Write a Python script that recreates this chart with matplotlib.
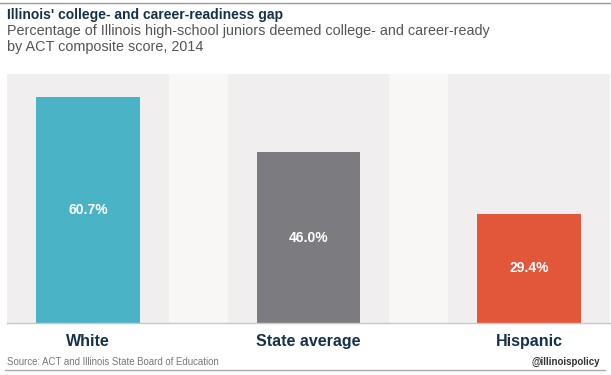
import matplotlib.pyplot as plt
from matplotlib.lines import Line2D

# ====== DATA ======
categories = ["White", "State average", "Hispanic"]
values = [60.7, 46.0, 29.4]
bar_colors = ["#4ab3c6", "#7b7b80", "#e2573a"]
# ==================

plt.rcParams['font.family'] = ['Liberation Sans', 'DejaVu Sans']

fig = plt.figure(figsize=(6.11, 3.75), dpi=100)
fig.patch.set_facecolor("white")

ax = fig.add_axes([7 / 611, 1 - 323 / 375, 603 / 611, 249 / 375])
ax.set_facecolor("#f8f7f6")

x = range(len(categories))
for i in x:
    ax.axvspan(i - 0.367, i + 0.367, color="#f0eeef", lw=0, zorder=0)

bars = ax.bar(x, values, width=0.47, color=bar_colors, zorder=2)
for i, v in zip(x, values):
    ax.text(i, v / 2, f"{v:.1f}%", ha="center", va="center",
            color="white", fontsize=10, fontweight="bold", zorder=3)

ax.set_xlim(-0.367, 2.367)
ax.set_ylim(0, 67)
ax.set_yticks([])
ax.set_xticks(list(x))
ax.set_xticklabels(categories, fontsize=11.5, fontweight="bold", color="#15314b")
ax.tick_params(axis="x", length=0, pad=8)
for s in ["top", "left", "right"]:
    ax.spines[s].set_visible(False)
ax.spines["bottom"].set_color("#c8c8c8")
ax.spines["bottom"].set_linewidth(1)

# titles
fig.text(7 / 611, 1 - 15 / 375, "Illinois' college- and career-readiness gap",
         fontsize=10, fontweight="bold", color="#15314b", va="center")
fig.text(7 / 611, 1 - 31 / 375,
         "Percentage of Illinois high-school juniors deemed college- and career-ready",
         fontsize=10.4, color="#555555", va="center")
fig.text(7 / 611, 1 - 47 / 375, "by ACT composite score, 2014",
         fontsize=10.4, color="#555555", va="center")

# footer
fig.text(7 / 611, 1 - 362 / 375, "Source: ACT and Illinois State Board of Education",
         fontsize=6.9, color="#777777", va="center")
fig.text(600 / 611, 1 - 362 / 375, "@illinoispolicy",
         fontsize=7, fontweight="bold", color="#333333", va="center", ha="right")

# rules
fig.add_artist(Line2D([0, 1], [1 - 3 / 375, 1 - 3 / 375], color="#999999", lw=1))
fig.add_artist(Line2D([5 / 611, 605 / 611], [1 - 370 / 375, 1 - 370 / 375],
                      color="#aaaaaa", lw=1))

fig.savefig("out.png", dpi=100)
